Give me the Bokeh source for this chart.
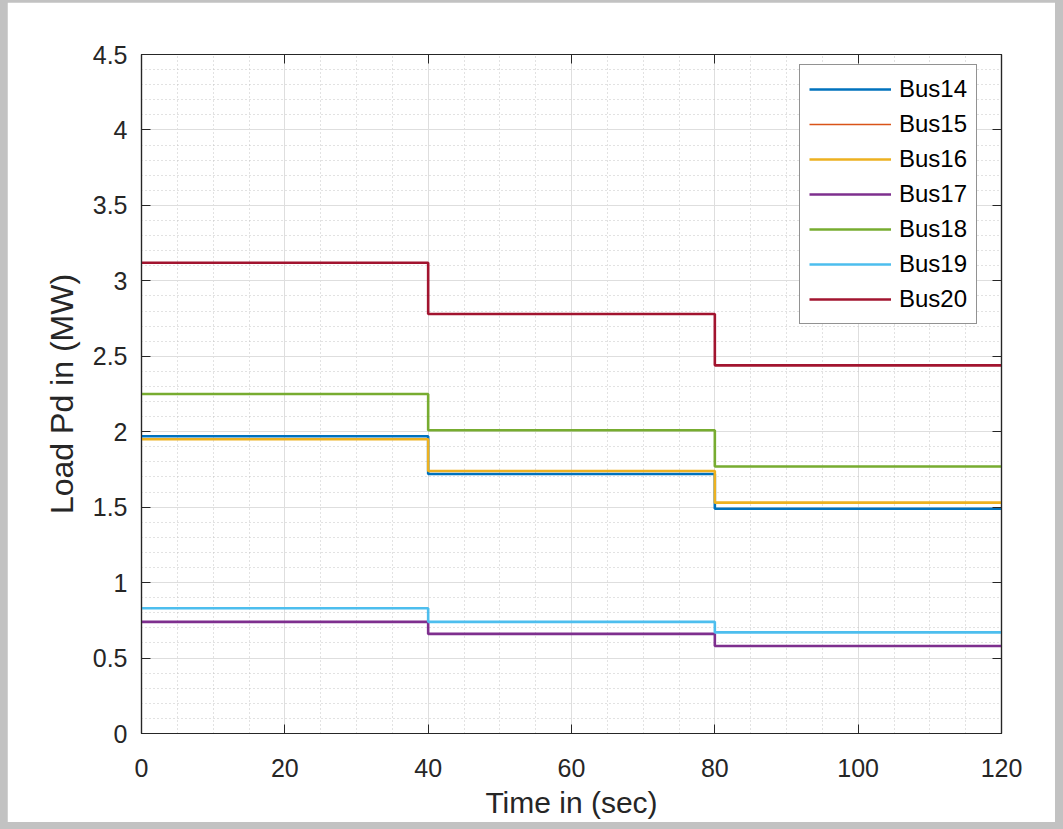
from bokeh.plotting import figure
from bokeh.models import (LinearAxis, FixedTicker, Legend, LegendItem,
                          CustomJSTickFormatter, Range1d)
from bokeh.layouts import column
from bokeh.embed import file_html
from bokeh.resources import INLINE

# ---- data ----
time_s = [0, 40, 80, 120]
bus14 = [1.97, 1.72, 1.49, 1.49]
bus15 = [1.95, 1.74, 1.53, 1.53]
bus16 = [1.95, 1.74, 1.53, 1.53]
bus17 = [0.74, 0.66, 0.58, 0.58]
bus18 = [2.25, 2.01, 1.77, 1.77]
bus19 = [0.83, 0.74, 0.67, 0.67]
bus20 = [3.12, 2.78, 2.44, 2.44]

series_names = ["Bus14", "Bus15", "Bus16", "Bus17", "Bus18", "Bus19", "Bus20"]
series_values = [bus14, bus15, bus16, bus17, bus18, bus19, bus20]
series_colors = ["#0072BD", "#D95319", "#EDB120", "#7E2F8E", "#77AC30", "#4DBEEE", "#A2142F"]
series_widths = [2.6, 1.4, 2.6, 2.6, 2.6, 2.6, 2.6]

x_ticks = [0, 20, 40, 60, 80, 100, 120]
y_ticks = [0, 0.5, 1, 1.5, 2, 2.5, 3, 3.5, 4, 4.5]
y_tick_labels = ["0", "0.5", "1", "1.5", "2", "2.5", "3", "3.5", "4", "4.5"]

FONT = "Liberation Sans"
AX = "#262626"

p = figure(frame_width=860, frame_height=679,
           x_range=Range1d(0, 120), y_range=Range1d(0, 4.5),
           output_backend="svg", toolbar_location=None,
           min_border_left=134, min_border_right=54,
           min_border_top=52, min_border_bottom=89,
           background_fill_color="white", border_fill_color="white",
           outline_line_color=AX, outline_line_width=1.2)

renderers = []
for name, vals, col, w in zip(series_names, series_values, series_colors, series_widths):
    r = p.step(time_s, vals, mode="after", line_color=col, line_width=w)
    renderers.append((name, r))

# axes
xa = p.xaxis[0]
ya = p.yaxis[0]
xa.ticker = FixedTicker(ticks=x_ticks, minor_ticks=list(range(0, 121, 5)))
ya.ticker = FixedTicker(ticks=y_ticks, minor_ticks=[i / 10 for i in range(0, 46)])
ya.major_label_overrides = {t: l for t, l in zip(y_ticks, y_tick_labels)}
for ax in (xa, ya):
    ax.axis_line_color = AX
    ax.axis_line_width = 1.2
    ax.major_tick_line_color = AX
    ax.major_tick_in = 9
    ax.major_tick_out = 0
    ax.minor_tick_in = 0
    ax.minor_tick_out = 0
    ax.major_label_text_font = FONT
    ax.major_label_text_font_size = "25px"
    ax.major_label_text_color = AX
    ax.axis_label_text_font = FONT
    ax.axis_label_text_font_style = "normal"
    ax.axis_label_text_color = AX
xa.axis_label = "Time in (sec)"
ya.axis_label = "Load Pd in (MW)"
xa.axis_label_text_font_size = "30px"
ya.axis_label_text_font_size = "32px"
xa.major_label_standoff = 25
xa.axis_label_standoff = 6
ya.major_label_standoff = 14
ya.axis_label_standoff = 10

# top/right box ticks
blank = CustomJSTickFormatter(code="return ''")
top = LinearAxis(ticker=FixedTicker(ticks=x_ticks), formatter=blank)
right = LinearAxis(ticker=FixedTicker(ticks=y_ticks), formatter=blank)
for ax in (top, right):
    ax.axis_line_color = AX
    ax.axis_line_width = 1.2
    ax.major_tick_line_color = AX
    ax.major_tick_in = 9
    ax.major_tick_out = 0
    ax.minor_tick_in = 0
    ax.minor_tick_out = 0
    ax.major_label_text_font_size = "1px"
p.add_layout(top, "above")
p.add_layout(right, "right")

# grids
for g in (p.xgrid[0], p.ygrid[0]):
    g.grid_line_color = "#dedede"
    g.grid_line_width = 1
    g.minor_grid_line_color = "#c4c4c4"
    g.minor_grid_line_dash = "1 3"
    g.minor_grid_line_width = 1

legend = Legend(items=[LegendItem(label=n, renderers=[r]) for n, r in renderers],
                location=(658, 409), margin=0, padding=9, spacing=5,
                glyph_width=82, glyph_height=30, label_height=30,
                label_standoff=8,
                label_text_font=FONT, label_text_font_size="24px",
                label_text_color="black",
                border_line_color=AX, border_line_width=1.2,
                background_fill_color="white", background_fill_alpha=1)
p.add_layout(legend, "center")

page = column(p, styles={"background-color": "#c2c2c2",
                         "padding": "2px 8px 7px 7px"})

open("out.html", "w").write(file_html(page, INLINE))
